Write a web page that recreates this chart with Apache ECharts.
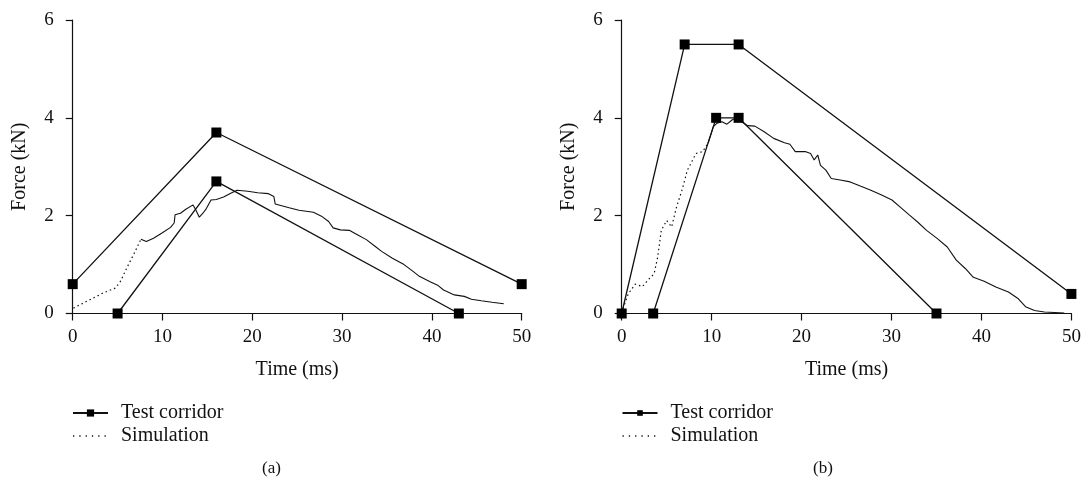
<!DOCTYPE html>
<html>
<head>
<meta charset="utf-8">
<script src="https://cdn.jsdelivr.net/npm/echarts@6/dist/echarts.min.js"></script>
<style>
html,body{margin:0;padding:0;background:#fff;}
#chart{width:1089px;height:486px;}
</style>
</head>
<body>
<div id="chart"></div>
<script>
// ---- data ----
var xTicks = [0, 10, 20, 30, 40, 50];
var yTicks = [0, 2, 4, 6];
var legendNames = ['Test corridor', 'Simulation'];
var panelLabels = ['(a)', '(b)'];

// panel (a) test corridor
var corrA_upper_t = [0, 16, 50];
var corrA_upper_f = [0.6, 3.7, 0.6];
var corrA_lower_t = [5, 16, 43];
var corrA_lower_f = [0, 2.7, 0];

// panel (b) test corridor
var corrB_upper_t = [0, 7, 13, 50];
var corrB_upper_f = [0, 5.5, 5.5, 0.4];
var corrB_lower_t = [3.5, 10.5, 13, 35];
var corrB_lower_f = [0, 4.0, 4.0, 0];

// panel (a) simulation
var simA_t = [0.08, 1.9, 3.4, 4.75, 5.3, 6.1, 6.85, 7.6, 8.2, 9.0, 9.9, 10.9, 11.3, 11.4, 12.0, 12.6, 13.4, 13.7, 14.1, 14.5, 14.9, 15.4, 16.0, 16.8, 17.6, 18.3, 19.5, 20.6, 21.8, 22.4, 22.55, 22.75, 24.1, 25.2, 26.8, 27.7, 28.5, 29.0, 29.8, 30.8, 31.7, 32.7, 33.7, 34.4, 35.6, 36.9, 37.9, 38.6, 39.8, 40.7, 41.3, 42.5, 43.6, 44.4, 45.5, 46.7, 48.0];
var simA_f = [0.11, 0.28, 0.42, 0.52, 0.65, 0.96, 1.23, 1.52, 1.47, 1.54, 1.64, 1.76, 1.85, 2.02, 2.05, 2.13, 2.22, 2.12, 1.97, 2.05, 2.15, 2.32, 2.33, 2.38, 2.46, 2.52, 2.50, 2.47, 2.45, 2.39, 2.24, 2.20, 2.16, 2.11, 2.07, 1.99, 1.88, 1.75, 1.71, 1.70, 1.61, 1.51, 1.37, 1.27, 1.13, 1.00, 0.86, 0.76, 0.65, 0.57, 0.48, 0.38, 0.35, 0.29, 0.26, 0.23, 0.20];
var simA_dotEnd = 7.6;

// panel (b) simulation
var simB_t = [0.15, 0.73, 1.5, 2.3, 3.05, 3.6, 4.0, 4.4, 5.0, 5.55, 6.1, 6.7, 7.3, 7.7, 8.25, 9.0, 9.6, 10.2, 10.6, 11.15, 11.7, 12.3, 12.9, 13.5, 14.0, 14.8, 15.8, 16.9, 18.1, 18.7, 19.3, 20.4, 21.0, 21.4, 21.8, 22.1, 22.7, 23.3, 24.3, 25.4, 26.6, 27.7, 28.9, 30.05, 31.0, 32.0, 32.9, 33.9, 35.1, 36.2, 37.2, 38.2, 39.1, 40.3, 41.6, 43.0, 44.1, 44.9, 45.9, 47.0, 49.2];
var simB_f = [0.10, 0.40, 0.60, 0.55, 0.71, 0.81, 1.15, 1.70, 1.90, 1.77, 2.18, 2.52, 2.93, 3.07, 3.27, 3.31, 3.48, 3.82, 3.89, 3.92, 3.87, 3.96, 4.00, 3.90, 3.84, 3.83, 3.72, 3.58, 3.49, 3.46, 3.31, 3.31, 3.27, 3.14, 3.24, 3.03, 2.93, 2.76, 2.73, 2.69, 2.60, 2.52, 2.42, 2.32, 2.17, 2.01, 1.87, 1.70, 1.53, 1.36, 1.09, 0.92, 0.74, 0.66, 0.54, 0.44, 0.30, 0.14, 0.06, 0.03, 0.01];
var simB_dotEnd = 9.6;

// ---- build ----
function zip(t, f) { return t.map(function (v, i) { return [v, f[i]]; }); }
function part(t, f, cut, before) {
  var out = [];
  for (var i = 0; i < t.length; i++) {
    if (before ? t[i] <= cut : t[i] >= cut) out.push([t[i], f[i]]);
  }
  return out;
}

var FONT = 'Liberation Serif';
var INK = '#111';

var grids = [
  { left: 72.7, top: 20, width: 449, height: 293.5 },
  { left: 621.7, top: 20, width: 449.7, height: 293.5 }
];

function xAxis(gi) {
  return {
    type: 'value', gridIndex: gi, min: 0, max: 50, interval: 10,
    name: 'Time (ms)', nameLocation: 'middle', nameGap: 46,
    nameTextStyle: { fontSize: 20, color: INK, fontFamily: FONT },
    axisLine: { show: true, onZero: false, lineStyle: { color: INK, width: 1.2 } },
    axisTick: { show: true, length: 7, lineStyle: { color: INK, width: 1.2 } },
    axisLabel: { fontSize: 19, color: INK, fontFamily: FONT, margin: 14 },
    splitLine: { show: false }
  };
}
function yAxis(gi) {
  return {
    type: 'value', gridIndex: gi, min: 0, max: 6, interval: 2,
    name: 'Force (kN)', nameLocation: 'middle', nameGap: 43,
    nameTextStyle: { fontSize: 20, color: INK, fontFamily: FONT },
    axisLine: { show: true, onZero: false, lineStyle: { color: INK, width: 1.2 } },
    axisTick: { show: true, length: 7, lineStyle: { color: INK, width: 1.2 } },
    axisLabel: { fontSize: 19, color: INK, fontFamily: FONT, margin: 19 },
    splitLine: { show: false }
  };
}

function corridor(gi, t, f) {
  return {
    name: legendNames[0], type: 'line', xAxisIndex: gi, yAxisIndex: gi,
    data: zip(t, f), symbol: 'rect', symbolSize: 10, showSymbol: true,
    clip: false, animation: false,
    lineStyle: { color: INK, width: 1.3 }, itemStyle: { color: '#000' }, z: 3
  };
}
function simDotted(gi, t, f, cut) {
  return {
    name: legendNames[1], type: 'line', xAxisIndex: gi, yAxisIndex: gi,
    data: part(t, f, cut, true), symbol: 'none', animation: false,
    lineStyle: { color: INK, width: 1.2, type: [1.5, 3] }, itemStyle: { color: INK }, z: 2
  };
}
function simSolid(gi, t, f, cut) {
  return {
    name: 'Simulation-cont', type: 'line', xAxisIndex: gi, yAxisIndex: gi,
    data: part(t, f, cut, false), symbol: 'none', animation: false,
    lineStyle: { color: INK, width: 1.1 }, itemStyle: { color: INK }, z: 2
  };
}

function legend(left, ih) {
  return {
    left: left, top: 398, orient: 'vertical', itemGap: 3,
    itemWidth: 35, itemHeight: ih,
    data: [
      { name: legendNames[0] },
      {
        name: legendNames[1],
        itemStyle: { opacity: 0, color: 'rgba(0,0,0,0)', borderWidth: 0 },
        lineStyle: { color: INK, width: 1.3, type: [1.3, 5] }
      }
    ],
    textStyle: { fontSize: 20, color: INK, fontFamily: FONT, padding: [0, 0, 0, 8] },
    selectedMode: false
  };
}

var option = {
  animation: false,
  backgroundColor: '#fff',
  textStyle: { fontFamily: FONT },
  grid: grids,
  xAxis: [xAxis(0), xAxis(1)],
  yAxis: [yAxis(0), yAxis(1)],
  legend: [legend(67, 9), legend(616.5, 7)],
  title: [
    { text: panelLabels[0], left: 257, top: 455, textStyle: { fontSize: 17, fontWeight: 'normal', color: INK, fontFamily: FONT } },
    { text: panelLabels[1], left: 808, top: 455, textStyle: { fontSize: 17, fontWeight: 'normal', color: INK, fontFamily: FONT } }
  ],
  series: [
    corridor(0, corrA_upper_t, corrA_upper_f),
    corridor(0, corrA_lower_t, corrA_lower_f),
    simDotted(0, simA_t, simA_f, simA_dotEnd),
    simSolid(0, simA_t, simA_f, simA_dotEnd),
    corridor(1, corrB_upper_t, corrB_upper_f),
    corridor(1, corrB_lower_t, corrB_lower_f),
    simDotted(1, simB_t, simB_f, simB_dotEnd),
    simSolid(1, simB_t, simB_f, simB_dotEnd)
  ]
};

var chart = echarts.init(document.getElementById('chart'), null, { renderer: 'canvas' });
chart.setOption(option);
</script>
</body>
</html>
